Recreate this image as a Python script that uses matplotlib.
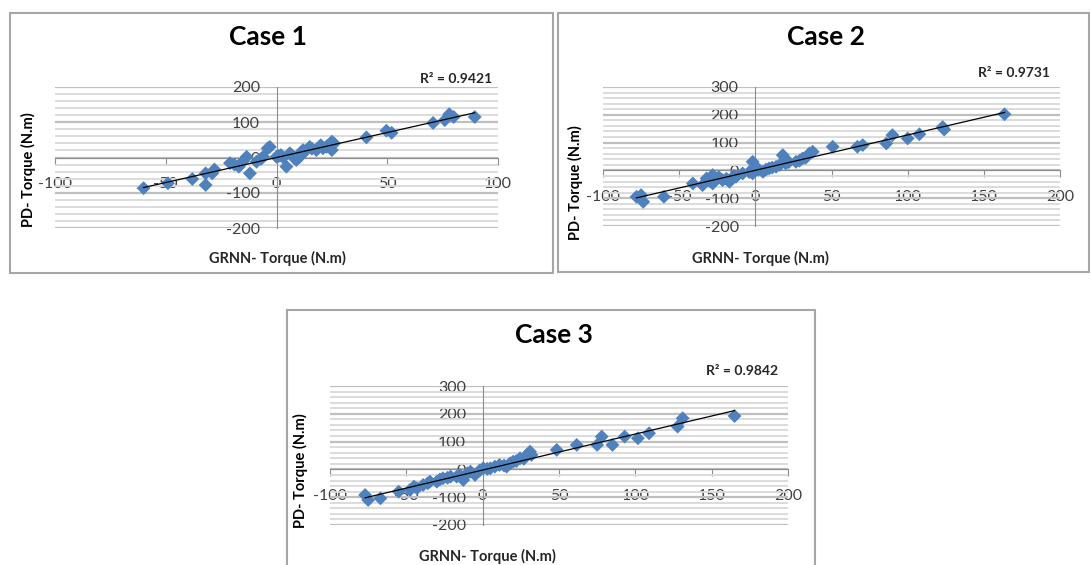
import matplotlib
matplotlib.use("Agg")
import matplotlib.pyplot as plt
from matplotlib.patches import Rectangle
from matplotlib.ticker import MultipleLocator
import numpy as np

plt.rcParams['font.family'] = ['Lato', 'DejaVu Sans']
plt.rcParams['axes.unicode_minus'] = False

W, H = 1091, 565

# values
case1_x = [-60, -49, -38, -32, -32, -29, -28, -21, -17, -13.5, -12, -9, -6, -4, -3,
           0, 2, 4.5, 6, 9, 10.5, 12, 15, 18, 20, 22.5, 25, 25, 26,
           -19, -15, -7, 1, 3, 7, 8, 11, 13, 16, 19, 21, 23,
           40.6, 49.6, 52, 70.7, 76, 78, 80, 89.5]
case1_y = [-87, -73, -61, -45, -78, -45, -34, -16, -26, 2, -45, -12, 2, 26, 30,
           2, 7, -26, 12, -7, 2, 21, 30, 21, 35, 30, 45, 21, 40,
           -20, -10, -4, 4, 0, 6, -2, 14, 18, 25, 28, 26, 33,
           57, 76, 70, 98, 106, 123, 115, 115]

case2_x = [-78, -73.6, -75, -60, -41, -34.6, -32, -28, -26, -28, -21.5, -17, -12.7, -8.3,
           -1.75, -1.75, 0.4, 5, 9, 13.6, 18, 20, 26.7, 31, 35.5, 37.7,
           -30, -24, -19, -14, -4, 2, 7, 11, 16, 22, 29, 33,
           50.8, 67, 70.5, 86, 90, 100, 107.7, 123, 124, 163.6]
case2_y = [-95, -113, -89, -95, -47, -53, -29, -17, -29, -47, -35, -41, -23, -11,
           31, -11, 13, -5, 7, 13, 55, 25, 31, 43, 61, 67,
           -38, -24, -30, -20, -6, 2, 3, 10, 20, 30, 35, 45,
           85, 85, 91, 97, 127, 115, 130, 156, 147, 202]

case3_x = [-77, -75, -67, -55, -47.6, -43, -39, -34.5, -30, -26, -21, -17, -12.7, -8, -5,
           0.4, 5, 11, 15.7, 20, 24.5, 29, 31, 32,
           -45, -36, -28, -23, -15, -10, -2, 3, 8, 14, 18, 22, 27,
           48.5, 61.6, 75, 78, 85, 93, 101.7, 109, 127.7, 131, 165]
case3_y = [-92, -110, -104, -80, -74, -68, -56, -44, -44, -32, -26, -26, -38, -8, -20,
           4, 4, 16, 10, 28, 40, 52, 64, 52,
           -62, -50, -36, -30, -20, -14, -4, 2, 10, 14, 22, 30, 38,
           70, 88, 88, 118, 88, 118, 112, 130, 154, 184, 192]

titles = ["Case 1", "Case 2", "Case 3"]
r2_labels = ["R² = 0.9421", "R² = 0.9731", "R² = 0.9842"]
x_label = "GRNN- Torque (N.m)"
y_label = "PD- Torque (N.m)"


def fx(px):
    return px / W


def fy(py):
    return 1 - py / H


def draw_case(frame, area, xlim, ylim, xs, ys, title, r2, title_xy, r2_xy, ylab_xy, xlab_xy):
    # grey frame around the whole chart, like the excel chart border
    fig.patches.append(Rectangle((fx(frame[0]), fy(frame[3])), fx(frame[2] - frame[0]),
                                 (frame[3] - frame[1]) / H, transform=fig.transFigure,
                                 fill=False, edgecolor='#A6A6A6', linewidth=1.5))

    ax = fig.add_axes([fx(area[0]), fy(area[3]), fx(area[2] - area[0]), (area[3] - area[1]) / H])
    ax.set_xlim(xlim)
    ax.set_ylim(ylim)

    ax.yaxis.set_major_locator(MultipleLocator(100))
    ax.yaxis.set_minor_locator(MultipleLocator(20))
    ax.xaxis.set_major_locator(MultipleLocator(50))
    ax.grid(which='minor', axis='y', color='#D9D9D9', linewidth=1.3)
    ax.grid(which='major', axis='y', color='#BFBFBF', linewidth=1.6)
    ax.set_axisbelow(True)

    ax.spines['left'].set_position('zero')
    ax.spines['bottom'].set_position('zero')
    ax.spines['top'].set_visible(False)
    ax.spines['right'].set_visible(False)
    ax.spines['left'].set_color('#8C8C8C')
    ax.spines['bottom'].set_color('#8C8C8C')
    ax.spines['left'].set_linewidth(0.8)
    ax.spines['bottom'].set_linewidth(0.8)

    ax.tick_params(axis='x', which='major', direction='out', length=5, color='#8C8C8C',
                   pad=9, labelsize=11.5, labelcolor='#404040')
    ax.tick_params(axis='y', which='major', length=0, pad=12, labelsize=11.5, labelcolor='#404040')
    ax.tick_params(axis='y', which='minor', length=0)

    ax.scatter(xs, ys, marker='D', s=50, color='#4F81BD', edgecolors='none', zorder=3)

    # linear trend line over the data range
    k, b = np.polyfit(xs, ys, 1)
    tx = np.array([min(xs), max(xs)])
    ax.plot(tx, k * tx + b, color='black', linewidth=0.9, zorder=4)

    fig.text(fx(title_xy[0]), fy(title_xy[1]), title, fontsize=19, fontweight='bold',
             ha='center', va='center')
    fig.text(fx(r2_xy[0]), fy(r2_xy[1]), r2, fontsize=10, fontweight='bold',
             ha='right', va='center', color='#262626')
    fig.text(fx(ylab_xy[0]), fy(ylab_xy[1]), y_label, fontsize=10.5, fontweight='bold',
             rotation=90, ha='center', va='center')
    fig.text(fx(xlab_xy[0]), fy(xlab_xy[1]), x_label, fontsize=10.5, fontweight='bold',
             ha='center', va='center', color='#262626')
    return ax


fig = plt.figure(figsize=(10.91, 5.65), dpi=100)

draw_case((10, 13, 553, 273), (55, 87, 498, 228), (-100, 100), (-200, 200),
          case1_x, case1_y, titles[0], r2_labels[0],
          (268, 37), (492, 79), (28, 170), (277, 258))

draw_case((558, 13, 1089, 272), (603, 87, 1060, 226), (-100, 200), (-200, 300),
          case2_x, case2_y, titles[1], r2_labels[1],
          (826, 37), (1050, 73), (575, 183), (760, 258))

draw_case((287, 310, 815, 572), (330, 386, 788, 525), (-100, 200), (-200, 300),
          case3_x, case3_y, titles[2], r2_labels[2],
          (554, 335), (778, 371), (300, 471), (487, 556))

fig.savefig("out.png", dpi=100)
